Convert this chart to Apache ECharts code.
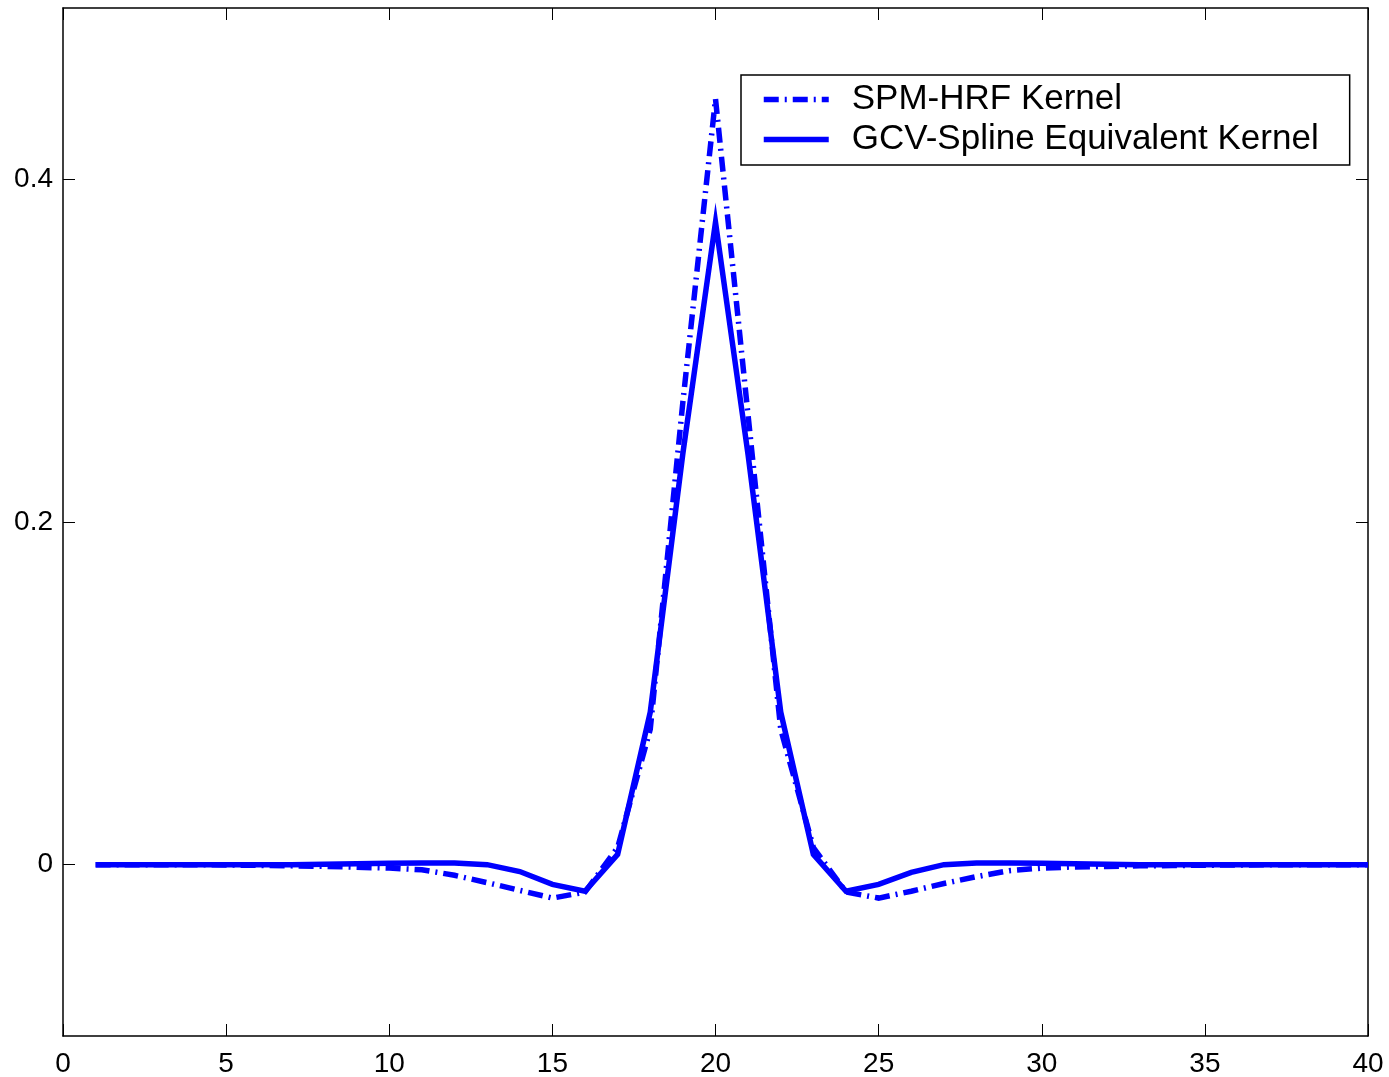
<!DOCTYPE html>
<html><head><meta charset="utf-8">
<script src="https://cdn.jsdelivr.net/npm/echarts@6/dist/echarts.min.js"></script>
<style>html,body{margin:0;padding:0;background:#fff}#c{width:1389px;height:1077px}</style>
</head><body><div id="c"></div><script>
const xValues = [1,2,3,4,5,6,7,8,9,10,11,12,13,14,15,16,17,18,19,20,21,22,23,24,25,26,27,28,29,30,31,32,33,34,35,36,37,38,39,40];
const spmHrf = [0,0,0,0,-0.0002,-0.0004,-0.0007,-0.001,-0.0015,-0.002,-0.003,-0.0062,-0.0105,-0.015,-0.0195,-0.016,0.01,0.079,0.27,0.447,0.262,0.079,0.01,-0.016,-0.0195,-0.0155,-0.011,-0.007,-0.0035,-0.002,-0.0013,-0.001,-0.0007,-0.0005,-0.0003,-0.0002,0,0,0,0];
const gcvSpline = [0,0,0,0,0,0,0,0.0003,0.0005,0.0008,0.001,0.001,0,-0.004,-0.0115,-0.0155,0.006,0.089,0.24,0.375,0.239,0.089,0.006,-0.0155,-0.0115,-0.0045,0,0.001,0.001,0.0008,0.0005,0.0003,0,0,0,0,0,0,0,0];
const xTicks = [0,5,10,15,20,25,30,35,40];
const yTicks = [0,0.2,0.4];
const seriesNames = ['SPM-HRF Kernel','GCV-Spline Equivalent Kernel'];

const font = '"Liberation Sans", Arial, Helvetica, sans-serif';
const pair = arr => xValues.map((x,i)=>[x,arr[i]]);
const axLine = {show:true, onZero:false, lineStyle:{color:'#000', width:1.5}};
const tick = {show:true, inside:true, length:12, lineStyle:{color:'#000', width:1}};

const chart = echarts.init(document.getElementById('c'), null, {renderer:'canvas'});
chart.setOption({
  backgroundColor:'#fff',
  animation:false,
  grid:{left:63, right:21, top:8, bottom:41, containLabel:false, outerBoundsMode:'none'},
  legend:{
    orient:'vertical', left:741, top:75,
    padding:[7,31,8,20],
    borderColor:'#000', borderWidth:1.5, backgroundColor:'#fff',
    itemWidth:65, itemHeight:20, itemGap:5,
    itemStyle:{opacity:0},
    lineStyle:{width:5.5},
    textStyle:{fontFamily:font, fontSize:35, color:'#000', lineHeight:35, padding:[0,0,0,18]},
    data:seriesNames
  },
  xAxis:[
    {type:'value', position:'bottom', min:0, max:40, interval:5,
     axisLine:axLine, axisTick:Object.assign({customValues:xTicks}, tick), splitLine:{show:false},
     axisLabel:{fontFamily:font, fontSize:28, color:'#000', margin:14, customValues:xTicks}},
    {type:'value', position:'top', min:0, max:40, interval:5,
     axisLine:axLine, axisTick:Object.assign({customValues:xTicks}, tick), splitLine:{show:false}, axisLabel:{show:false}}
  ],
  yAxis:[
    {type:'value', position:'left', min:-0.1, max:0.5,
     axisLine:axLine, axisTick:Object.assign({customValues:yTicks}, tick), splitLine:{show:false},
     axisLabel:{fontFamily:font, fontSize:28, color:'#000', margin:10, customValues:yTicks,
       formatter:v=>String(Math.round(v*10)/10)}},
    {type:'value', position:'right', min:-0.1, max:0.5,
     axisLine:axLine, axisTick:Object.assign({customValues:yTicks}, tick), splitLine:{show:false},
     axisLabel:{show:false}}
  ],
  series:[
    {name:seriesNames[0], type:'line', data:pair(spmHrf), symbol:'none', xAxisIndex:0, yAxisIndex:0,
     lineStyle:{color:'#0000ff', width:5.5, type:[15,6,2,6], cap:'butt', join:'miter'}, itemStyle:{color:'#0000ff'}},
    {name:seriesNames[1], type:'line', data:pair(gcvSpline), symbol:'none', xAxisIndex:0, yAxisIndex:0,
     lineStyle:{color:'#0000ff', width:5.5, type:'solid', join:'miter'}, itemStyle:{color:'#0000ff'}}
  ]
});
</script></body></html>
